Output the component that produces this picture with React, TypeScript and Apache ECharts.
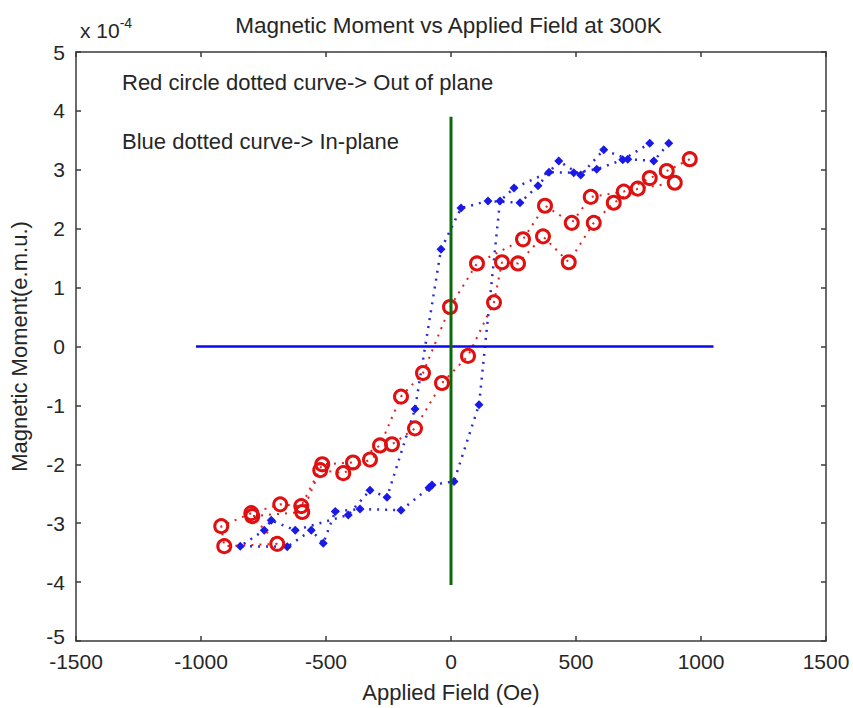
import React, { useEffect, useRef } from "react";
import * as echarts from "echarts";

// Applied field (Oe) and magnetic moment (x 1e-4 emu)
const blueField = [871, 811, 707, 611, 519, 431, 348, 276, 148, 40, -40, -144, -256, -324, -411, -623, -719, -747, -843,
  -655, -559, -511, -463, -364, -200, -88, -76, 12, 112, 196, 252, 392, 491, 583, 687, 795];
const blueMoment = [3.45, 3.15, 3.18, 3.34, 2.91, 3.15, 2.73, 2.44, 2.47, 2.35, 1.65, -1.06, -2.56, -2.44, -2.86, -3.12, -2.95, -3.12, -3.39,
  -3.40, -3.12, -3.34, -2.80, -2.76, -2.78, -2.40, -2.35, -2.29, -0.99, 2.47, 2.69, 2.96, 2.95, 3.01, 3.17, 3.45];

const redField = [955, 863, 795, 691, 559, 483, 376, 288, 104, -4, -112, -200, -284, -392, -515, -599, -683, -799, -919,
  -907, -695, -795, -595, -523, -431, -324, -236, -144, -36, 68, 172, 204, 268, 368, 471, 571, 651, 747, 895];
const redMoment = [3.18, 2.98, 2.86, 2.63, 2.54, 2.10, 2.39, 1.82, 1.41, 0.67, -0.45, -0.85, -1.68, -1.97, -2.00, -2.71, -2.68, -2.83, -3.05,
  -3.39, -3.35, -2.88, -2.81, -2.10, -2.15, -1.92, -1.66, -1.39, -0.62, -0.16, 0.75, 1.43, 1.41, 1.87, 1.43, 2.10, 2.44, 2.68, 2.78];

const hLineField = [-1020, 1050];
const hLineMoment = [0, 0];
const vLineField = [0, 0];
const vLineMoment = [-4.05, 3.9];

const xTicks = [-1500, -1000, -500, 0, 500, 1000, 1500];
const yTicks = [-5, -4, -3, -2, -1, 0, 1, 2, 3, 4, 5];

const titleText = "Magnetic Moment vs Applied Field at 300K";
const xLabel = "Applied Field (Oe)";
const yLabel = "Magnetic Moment(e.m.u.)";
const note1 = "Red circle dotted curve-> Out of plane";
const note2 = "Blue dotted curve-> In-plane";

const FONT = "'Liberation Sans', Arial, sans-serif";
const TXT = "#262626";
const AX = "#3a3a3a";

function pairs(a: number[], b: number[]) {
  return a.map((v, i) => [v, b[i]]);
}

export default function App() {
  const ref = useRef<HTMLDivElement>(null);
  useEffect(() => {
    if (!ref.current) return;
    const chart = echarts.init(ref.current, null, { renderer: "svg" });
    const gridLeft = 75, gridTop = 52, gridW = 751, gridH = 592;
    const axisCommon = {
      type: "value" as const,
      axisLine: { show: true, onZero: false, lineStyle: { color: AX, width: 1.5 } },
      axisTick: { show: true, inside: true, length: 5, lineStyle: { color: AX, width: 1.5 } },
      splitLine: { show: false },
    };
    chart.setOption({
      animation: false,
      backgroundColor: "#ffffff",
      grid: { left: gridLeft, top: gridTop, width: gridW, height: gridH, containLabel: false },
      xAxis: [
        {
          ...axisCommon,
          min: xTicks[0], max: xTicks[xTicks.length - 1], interval: 500,
          position: "bottom",
          axisLabel: {
            color: TXT, fontFamily: FONT, fontSize: 21, lineHeight: 18, margin: 11,
            showMinLabel: true, showMaxLabel: true,
            formatter: (v: number) => String(v),
          },
          name: xLabel, nameLocation: "middle", nameGap: 40,
          nameTextStyle: { color: TXT, fontFamily: FONT, fontSize: 22 },
        },
        {
          ...axisCommon,
          min: xTicks[0], max: xTicks[xTicks.length - 1], interval: 500,
          position: "top",
          axisLabel: { show: false },
        },
      ],
      yAxis: [
        {
          ...axisCommon,
          min: yTicks[0], max: yTicks[yTicks.length - 1], interval: 1,
          position: "left",
          axisLabel: {
            color: TXT, fontFamily: FONT, fontSize: 21, lineHeight: 16, margin: 11,
            showMinLabel: true, showMaxLabel: true,
            formatter: (v: number) => (v === yTicks[0] ? `{lo|${v}}` : String(v)),
            rich: {
              lo: { fontFamily: FONT, fontSize: 21, lineHeight: 16, color: TXT, padding: [0, 0, 9, 0] },
            },
          },
          name: yLabel, nameLocation: "middle", nameGap: 46, nameRotate: 90,
          nameTextStyle: { color: TXT, fontFamily: FONT, fontSize: 22 },
        },
        {
          ...axisCommon,
          min: yTicks[0], max: yTicks[yTicks.length - 1], interval: 1,
          position: "right",
          axisLabel: { show: false },
        },
      ],
      graphic: [
        {
          type: "text", x: gridLeft + gridW / 2 - 2, y: 25,
          style: { text: titleText, fill: TXT, font: `22.5px ${FONT}`, textAlign: "center", textVerticalAlign: "middle" },
        },
        {
          type: "text", x: 80, y: 30,
          style: {
            text: "{a|x 10}{b|-4}",
            textVerticalAlign: "middle",
            rich: {
              a: { fontFamily: FONT, fontSize: 21, fill: TXT, color: TXT },
              b: { fontFamily: FONT, fontSize: 14, fill: TXT, color: TXT, verticalAlign: "top", padding: [0, 0, 14, 0] },
            },
          },
        },
        {
          type: "text", x: 122, y: 82,
          style: { text: note1, fill: TXT, font: `22px ${FONT}`, textVerticalAlign: "middle" },
        },
        {
          type: "text", x: 122, y: 141,
          style: { text: note2, fill: TXT, font: `22px ${FONT}`, textVerticalAlign: "middle" },
        },
      ],
      series: [
        {
          type: "line",
          data: pairs(blueField, blueMoment),
          symbol: "diamond", symbolSize: 9, showAllSymbol: true,
          itemStyle: { color: "#1a1ae6" },
          lineStyle: { color: "#2a2ad8", width: 2.5, type: [2, 6] },
          z: 3,
        },
        {
          type: "line",
          data: pairs(redField, redMoment),
          symbol: "circle", symbolSize: 13, showAllSymbol: true,
          itemStyle: { color: "rgba(255,255,255,0)", borderColor: "#e01010", borderWidth: 3 },
          lineStyle: { color: "#e02020", width: 2, type: [2, 6] },
          z: 4,
        },
        {
          type: "line",
          data: pairs(hLineField, hLineMoment),
          symbol: "none",
          lineStyle: { color: "#0a0aee", width: 2.5 },
          z: 5,
        },
        {
          type: "line",
          data: pairs(vLineField, vLineMoment),
          symbol: "none",
          lineStyle: { color: "#0a6a0a", width: 3 },
          z: 5,
        },
      ],
    });
    return () => chart.dispose();
  }, []);
  return (
    <div
      ref={ref}
      style={{ position: "fixed", left: 0, top: 0, width: 853, height: 708, background: "#fff" }}
    />
  );
}
